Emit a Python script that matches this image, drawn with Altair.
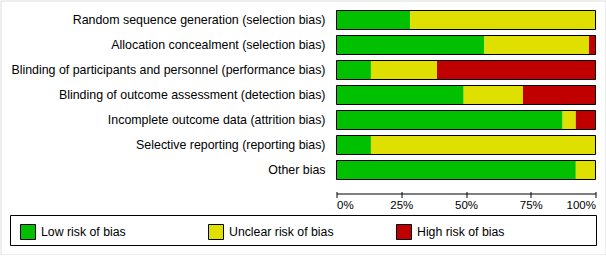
import altair as alt
import pandas as pd

domains = [
    "Random sequence generation (selection bias)",
    "Allocation concealment (selection bias)",
    "Blinding of participants and personnel (performance bias)",
    "Blinding of outcome assessment (detection bias)",
    "Incomplete outcome data (attrition bias)",
    "Selective reporting (reporting bias)",
    "Other bias",
]
low = [28.4, 57.1, 13.3, 49.1, 87.3, 13.3, 92.4]
unclear = [71.6, 40.4, 25.5, 22.9, 5.1, 86.7, 7.6]
high = [0.0, 2.5, 61.2, 28.0, 7.6, 0.0, 0.0]

risks = ["Low risk of bias", "Unclear risk of bias", "High risk of bias"]
colors = ["#00C000", "#E0E000", "#C00000"]
ticks = [0, 25, 50, 75, 100]

rows = []
for i, d in enumerate(domains):
    for k, (r, vals) in enumerate(zip(risks, [low, unclear, high])):
        rows.append({"domain": d, "risk": r, "ord": k, "value": vals[i]})
df = pd.DataFrame(rows)
outline_df = pd.DataFrame({"domain": domains, "total": [100] * len(domains)})
legend_df = pd.DataFrame({"risk": risks, "ord": [0, 1, 2]})

FONT = "Liberation Sans"

yscale = alt.Scale(domain=domains, range=[7, 182], paddingInner=0.24, paddingOuter=0.12)
xrange = [336, 595]
color = alt.Color("risk:N", scale=alt.Scale(domain=risks, range=colors), legend=None)

bars = alt.Chart(df).mark_bar(strokeWidth=0).encode(
    x=alt.X(
        "value:Q",
        stack="zero",
        scale=alt.Scale(domain=[0, 100], range=xrange, nice=False),
        axis=alt.Axis(
            values=ticks,
            labelExpr="datum.value + '%'",
            labelFlush=True,
            grid=False,
            offset=-61,
            tickSize=4,
            tickColor="black",
            domainColor="black",
            labelColor="black",
            labelFontSize=11.5,
            labelFont=FONT,
            labelPadding=2,
            title=None,
        ),
    ),
    y=alt.Y("domain:N", sort=domains, scale=yscale, axis=None),
    color=color,
    order=alt.Order("ord:Q"),
)

outline = alt.Chart(outline_df).mark_bar(fillOpacity=0, stroke="black", strokeWidth=1).encode(
    x=alt.X(
        "total:Q",
        scale=alt.Scale(domain=[0, 100], range=xrange, nice=False),
        axis=alt.Axis(
            orient="top",
            values=ticks,
            offset=-193,
            tickSize=2,
            tickColor="black",
            domain=False,
            labels=False,
            grid=False,
            title=None,
        ),
    ),
    y=alt.Y("domain:N", sort=domains, scale=yscale, axis=None),
)

labels = alt.Chart(outline_df).mark_text(
    align="right", baseline="middle", fontSize=12.4, font=FONT, color="black"
).encode(
    x=alt.value(325),
    y=alt.Y("domain:N", sort=domains, scale=yscale, axis=None),
    text="domain:N",
)

legend_box = alt.Chart(alt.Data(values=[{}])).mark_rect(
    fillOpacity=0, stroke="black", strokeWidth=1
).encode(
    x=alt.value(10), x2=alt.value(596), y=alt.value(215), y2=alt.value(245)
)

lx = alt.X(
    "risk:N",
    sort=risks,
    scale=alt.Scale(type="point", domain=risks, range=[27.5, 403.5], padding=0),
    axis=None,
)

legend_sym = alt.Chart(legend_df).mark_square(
    size=225, opacity=1, stroke="black", strokeWidth=1
).encode(x=lx, y=alt.value(231.5), color=color)

legend_txt = alt.Chart(legend_df).mark_text(
    align="left", baseline="middle", dx=13, fontSize=12.3, font=FONT, color="black"
).encode(x=lx, y=alt.value(231.5), text="risk:N")

chart = (
    alt.layer(bars, outline, labels, legend_box, legend_sym, legend_txt)
    .resolve_scale(x="independent")
    .properties(
        width=605,
        height=254,
        autosize=alt.AutoSizeParams(type="none"),
        padding={"left": 0.5, "top": 0.5, "right": 0.5, "bottom": 0.5},
        background="white",
    )
    .configure_view(stroke="black", strokeWidth=1)
    .configure(font=FONT)
)

chart.save("out.html", embed_options={"renderer": "svg", "actions": False})
